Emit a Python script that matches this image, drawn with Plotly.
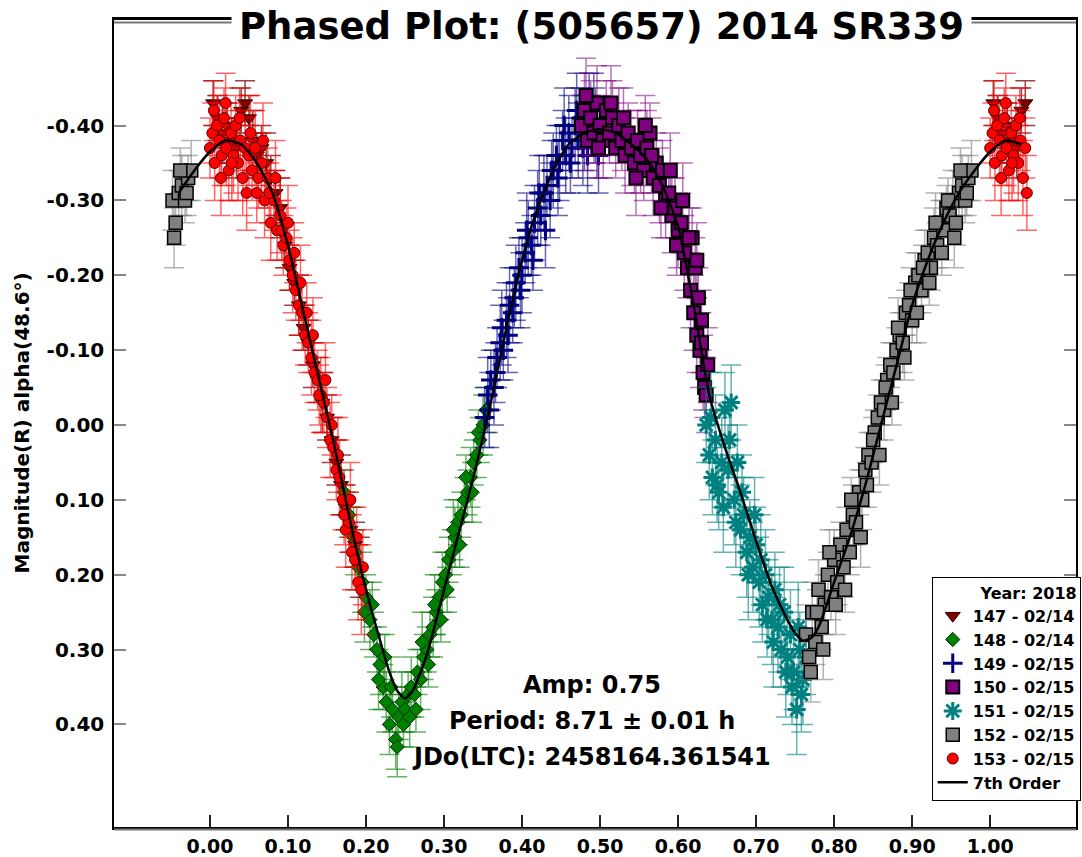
import plotly.graph_objects as go

# ---------------- data (phase, magnitude, error) ----------------
p147 = [0.004, 0.010, 0.016, 0.022, 0.028, 0.034, 0.040, 0.045, 0.050, 0.055, 0.060, 0.066, 0.072, 0.078,
        0.084, 0.090, 0.096, 0.102, 0.108, 0.114, 0.120, 0.126, 0.132, 0.138, 0.144, 0.150, 0.156, 0.162,
        0.168, 0.174, 0.180, 0.186, 0.192]
m147 = [-0.43, -0.41, -0.39, -0.40, -0.38, -0.37, -0.42, -0.43, -0.41, -0.38, -0.36, -0.37, -0.35, -0.33,
        -0.31, -0.29, -0.24, -0.21, -0.19, -0.16, -0.13, -0.11, -0.08, -0.06, -0.03, -0.01, 0.02, 0.05,
        0.08, 0.11, 0.14, 0.16, 0.19]
e147 = [0.03, 0.03, 0.04, 0.03, 0.03, 0.04, 0.03, 0.03, 0.03, 0.04, 0.03, 0.03, 0.04, 0.03,
        0.03, 0.04, 0.03, 0.03, 0.03, 0.04, 0.03, 0.03, 0.03, 0.03, 0.04, 0.03, 0.03, 0.03,
        0.04, 0.03, 0.03, 0.03, 0.04]

p148 = [0.172, 0.178, 0.184, 0.190, 0.195, 0.200, 0.205, 0.210, 0.214, 0.218, 0.222, 0.226, 0.230, 0.234,
        0.238, 0.242, 0.246, 0.250, 0.254, 0.258, 0.262, 0.266, 0.270, 0.274, 0.278, 0.282, 0.286, 0.290,
        0.294, 0.298, 0.302, 0.306, 0.310, 0.314, 0.318, 0.322, 0.326, 0.330, 0.334, 0.338, 0.342, 0.346,
        0.350, 0.354,
        0.186, 0.198, 0.208, 0.216, 0.224, 0.232, 0.240, 0.248, 0.256, 0.264, 0.272, 0.280, 0.288, 0.296,
        0.304, 0.312, 0.320, 0.328, 0.336, 0.344]
m148 = [0.09, 0.12, 0.15, 0.19, 0.21, 0.23, 0.26, 0.28, 0.30, 0.32, 0.35, 0.37, 0.40, 0.38,
        0.42, 0.39, 0.37, 0.38, 0.36, 0.35, 0.36, 0.33, 0.34, 0.31, 0.30, 0.28, 0.27, 0.25,
        0.23, 0.21, 0.20, 0.18, 0.17, 0.15, 0.13, 0.12, 0.10, 0.09, 0.07, 0.05, 0.04, 0.02,
        0.00, -0.02,
        0.17, 0.25, 0.24, 0.34, 0.31, 0.35, 0.43, 0.40, 0.39, 0.38, 0.29, 0.32, 0.24, 0.26,
        0.22, 0.14, 0.16, 0.07, 0.09, 0.01]
e148 = [0.03, 0.03, 0.04, 0.03, 0.04, 0.03, 0.04, 0.03, 0.03, 0.04, 0.03, 0.04, 0.04, 0.03,
        0.04, 0.03, 0.04, 0.03, 0.03, 0.04, 0.03, 0.03, 0.04, 0.03, 0.03, 0.03, 0.04, 0.03,
        0.03, 0.04, 0.03, 0.03, 0.03, 0.04, 0.03, 0.03, 0.03, 0.03, 0.04, 0.03, 0.03, 0.03,
        0.04, 0.03,
        0.03, 0.04, 0.03, 0.04, 0.03, 0.04, 0.04, 0.03, 0.04, 0.03, 0.04, 0.03, 0.04, 0.03,
        0.03, 0.04, 0.03, 0.03, 0.04, 0.03]

p149 = [0.352, 0.356, 0.360, 0.364, 0.368, 0.372, 0.376, 0.380, 0.384, 0.388, 0.392, 0.396, 0.400, 0.404,
        0.408, 0.412, 0.416, 0.420, 0.424, 0.428, 0.432, 0.436, 0.440, 0.444, 0.448, 0.452, 0.456, 0.460,
        0.464, 0.468, 0.472, 0.476, 0.480, 0.484, 0.488, 0.492, 0.496,
        0.358, 0.366, 0.374, 0.382, 0.390, 0.398, 0.406, 0.414, 0.422, 0.430, 0.438, 0.446, 0.454, 0.462,
        0.470, 0.478, 0.486, 0.494, 0.498]
m149 = [-0.01, -0.04, -0.06, -0.05, -0.09, -0.11, -0.10, -0.14, -0.16, -0.15, -0.19, -0.21, -0.20, -0.23,
        -0.25, -0.24, -0.27, -0.29, -0.28, -0.31, -0.32, -0.30, -0.34, -0.36, -0.35, -0.38, -0.36, -0.39,
        -0.37, -0.40, -0.38, -0.41, -0.39, -0.36, -0.40, -0.42, -0.38,
        -0.02, -0.07, -0.13, -0.12, -0.17, -0.18, -0.26, -0.22, -0.31, -0.26, -0.34, -0.33, -0.40, -0.35,
        -0.42, -0.37, -0.43, -0.40, -0.36]
e149 = [0.04, 0.05, 0.04, 0.05, 0.04, 0.05, 0.04, 0.05, 0.05, 0.04, 0.05, 0.04, 0.05, 0.04,
        0.05, 0.04, 0.05, 0.05, 0.04, 0.05, 0.04, 0.05, 0.05, 0.04, 0.05, 0.04, 0.05, 0.05,
        0.04, 0.05, 0.05, 0.04, 0.05, 0.05, 0.04, 0.05, 0.05,
        0.05, 0.04, 0.05, 0.05, 0.04, 0.05, 0.05, 0.04, 0.05, 0.05, 0.04, 0.05, 0.05, 0.04,
        0.05, 0.05, 0.04, 0.05, 0.05]

p150 = [0.476, 0.480, 0.484, 0.488, 0.492, 0.496, 0.500, 0.504, 0.508, 0.512, 0.516, 0.520, 0.524, 0.528,
        0.532, 0.536, 0.540, 0.544, 0.548, 0.552, 0.556, 0.560, 0.564, 0.568, 0.572, 0.576, 0.580, 0.584,
        0.588, 0.592, 0.596, 0.600, 0.604, 0.608, 0.612, 0.616, 0.618, 0.620, 0.622, 0.624, 0.626, 0.628,
        0.630, 0.632, 0.634, 0.636,
        0.482, 0.498, 0.514, 0.530, 0.546, 0.558, 0.566, 0.578, 0.590, 0.598, 0.606, 0.614, 0.624, 0.630,
        0.638]
m150 = [-0.40, -0.42, -0.38, -0.41, -0.39, -0.43, -0.40, -0.38, -0.42, -0.39, -0.41, -0.37, -0.40, -0.38,
        -0.36, -0.39, -0.37, -0.35, -0.38, -0.36, -0.34, -0.37, -0.39, -0.33, -0.35, -0.32, -0.34, -0.30,
        -0.31, -0.28, -0.29, -0.26, -0.27, -0.23, -0.21, -0.18, -0.25, -0.15, -0.21, -0.12, -0.17, -0.10,
        -0.11, -0.07, -0.05, -0.04,
        -0.44, -0.37, -0.43, -0.41, -0.33, -0.40, -0.36, -0.29, -0.34, -0.24, -0.30, -0.25, -0.22, -0.14,
        -0.08]
e150 = [0.04, 0.05, 0.04, 0.05, 0.04, 0.05, 0.04, 0.05, 0.04, 0.04, 0.05, 0.04, 0.05, 0.04,
        0.05, 0.04, 0.05, 0.04, 0.04, 0.05, 0.04, 0.05, 0.04, 0.05, 0.04, 0.05, 0.04, 0.05,
        0.04, 0.05, 0.04, 0.05, 0.04, 0.05, 0.04, 0.05, 0.04, 0.05, 0.04, 0.05, 0.04, 0.05,
        0.04, 0.05, 0.04, 0.05,
        0.05, 0.04, 0.05, 0.04, 0.05, 0.04, 0.05, 0.04, 0.05, 0.04, 0.05, 0.04, 0.05, 0.04,
        0.05]

p151 = [0.636, 0.640, 0.644, 0.648, 0.652, 0.656, 0.660, 0.664, 0.668, 0.672, 0.676, 0.680, 0.684, 0.688,
        0.692, 0.696, 0.700, 0.704, 0.708, 0.712, 0.716, 0.720, 0.724, 0.728, 0.732, 0.736, 0.740, 0.744,
        0.748, 0.752, 0.756, 0.760, 0.764,
        0.642, 0.650, 0.658, 0.666, 0.674, 0.682, 0.690, 0.698, 0.706, 0.714, 0.722, 0.730, 0.738, 0.746,
        0.754, 0.758]
m151 = [0.00, 0.04, 0.07, 0.02, 0.09, 0.05, -0.02, 0.06, -0.03, 0.10, 0.05, 0.14, 0.12, 0.17,
        0.15, 0.19, 0.16, 0.21, 0.24, 0.20, 0.23, 0.26, 0.22, 0.27, 0.30, 0.25, 0.31, 0.28,
        0.33, 0.38, 0.30, 0.34, 0.31,
        -0.01, 0.08, 0.11, 0.02, 0.13, 0.09, 0.20, 0.12, 0.18, 0.26, 0.29, 0.24, 0.33, 0.35,
        0.27, 0.36]
e151 = [0.05, 0.06, 0.05, 0.06, 0.05, 0.06, 0.05, 0.06, 0.05, 0.06, 0.05, 0.06, 0.05, 0.06,
        0.05, 0.06, 0.05, 0.06, 0.05, 0.06, 0.05, 0.06, 0.05, 0.06, 0.05, 0.06, 0.05, 0.06,
        0.05, 0.06, 0.05, 0.06, 0.05,
        0.06, 0.05, 0.06, 0.05, 0.06, 0.05, 0.06, 0.05, 0.06, 0.05, 0.06, 0.05, 0.06, 0.05,
        0.06, 0.05]

p152 = [0.764, 0.768, 0.772, 0.776, 0.780, 0.784, 0.788, 0.792, 0.796, 0.800, 0.804, 0.808, 0.812, 0.816,
        0.820, 0.824, 0.828, 0.832, 0.836, 0.840, 0.844, 0.848, 0.852, 0.856, 0.860, 0.864, 0.868, 0.872,
        0.876, 0.880, 0.884, 0.888, 0.892, 0.896, 0.900, 0.904, 0.908, 0.912, 0.916, 0.920, 0.924, 0.928,
        0.932, 0.936, 0.940, 0.944, 0.948, 0.952, 0.956, 0.960, 0.964, 0.968, 0.972, 0.976,
        0.770, 0.778, 0.786, 0.794, 0.802, 0.814, 0.822, 0.834, 0.842, 0.850, 0.858, 0.866, 0.874, 0.882,
        0.890, 0.898, 0.906, 0.914, 0.922, 0.930, 0.938, 0.946, 0.954, 0.962, 0.970]
m152 = [0.28, 0.31, 0.25, 0.29, 0.22, 0.27, 0.24, 0.20, 0.23, 0.18, 0.21, 0.16, 0.19, 0.14,
        0.17, 0.12, 0.13, 0.09, 0.10, 0.06, 0.04, 0.05, 0.01, -0.01, -0.03, -0.02, -0.06, -0.08,
        -0.07, -0.10, -0.12, -0.11, -0.15, -0.16, -0.14, -0.19, -0.20, -0.18, -0.22, -0.23, -0.21, -0.25,
        -0.24, -0.27, -0.26, -0.29, -0.28, -0.30, -0.27, -0.31, -0.32, -0.30, -0.33, -0.34,
        0.33, 0.25, 0.30, 0.17, 0.24, 0.22, 0.10, 0.15, 0.08, 0.02, 0.04, -0.05, -0.03, -0.13,
        -0.09, -0.18, -0.15, -0.21, -0.19, -0.27, -0.23, -0.30, -0.25, -0.34, -0.31]
e152 = [0.04, 0.03, 0.04, 0.03, 0.04, 0.03, 0.04, 0.03, 0.03, 0.04, 0.03, 0.03, 0.04, 0.03,
        0.03, 0.04, 0.03, 0.03, 0.04, 0.03, 0.03, 0.04, 0.03, 0.03, 0.03, 0.04, 0.03, 0.03,
        0.04, 0.03, 0.03, 0.04, 0.03, 0.03, 0.03, 0.04, 0.03, 0.03, 0.04, 0.03, 0.03, 0.04,
        0.03, 0.03, 0.04, 0.03, 0.03, 0.04, 0.03, 0.03, 0.04, 0.03, 0.03, 0.04,
        0.04, 0.03, 0.04, 0.03, 0.04, 0.03, 0.03, 0.04, 0.03, 0.03, 0.04, 0.03, 0.03, 0.04,
        0.03, 0.03, 0.04, 0.03, 0.03, 0.04, 0.03, 0.03, 0.04, 0.03, 0.03]

p153 = [0.000, 0.003, 0.006, 0.009, 0.012, 0.015, 0.018, 0.021, 0.024, 0.027, 0.030, 0.033, 0.036, 0.039,
        0.042, 0.045, 0.047, 0.050, 0.054, 0.058, 0.062, 0.066, 0.070, 0.074, 0.078, 0.082, 0.086, 0.090,
        0.094, 0.098, 0.102, 0.106, 0.110, 0.114, 0.118, 0.122, 0.126, 0.130, 0.134, 0.138, 0.142, 0.146,
        0.150, 0.154, 0.158, 0.162, 0.166, 0.170, 0.174, 0.178, 0.182, 0.186, 0.190, 0.194,
        0.005, 0.014, 0.020, 0.028, 0.038, 0.052, 0.060, 0.068, 0.076, 0.084, 0.092, 0.100, 0.108, 0.116,
        0.124, 0.132, 0.140, 0.148, 0.156, 0.164, 0.172, 0.180, 0.188, 0.196]
m153 = [-0.37, -0.39, -0.35, -0.40, -0.38, -0.36, -0.41, -0.37, -0.34, -0.39, -0.36, -0.40, -0.35, -0.38,
        -0.33, -0.37, -0.31, -0.36, -0.34, -0.37, -0.33, -0.35, -0.30, -0.33, -0.27, -0.30, -0.26, -0.28,
        -0.24, -0.25, -0.22, -0.20, -0.18, -0.16, -0.15, -0.12, -0.11, -0.09, -0.07, -0.06, -0.04, -0.03,
        -0.01, 0.02, 0.03, 0.06, 0.07, 0.10, 0.14, 0.13, 0.17, 0.18, 0.21, 0.22,
        -0.42, -0.33, -0.43, -0.35, -0.41, -0.39, -0.31, -0.38, -0.31, -0.33, -0.26, -0.27, -0.23, -0.19,
        -0.15, -0.12, -0.04, -0.06, 0.00, 0.04, 0.12, 0.10, 0.15, 0.19]
e153 = [0.04, 0.04, 0.05, 0.04, 0.05, 0.04, 0.04, 0.05, 0.04, 0.04, 0.05, 0.04, 0.05, 0.04,
        0.05, 0.04, 0.05, 0.04, 0.04, 0.05, 0.04, 0.04, 0.05, 0.04, 0.05, 0.04, 0.04, 0.05,
        0.04, 0.04, 0.04, 0.05, 0.04, 0.04, 0.05, 0.04, 0.04, 0.05, 0.04, 0.04, 0.05, 0.04,
        0.04, 0.05, 0.04, 0.04, 0.05, 0.04, 0.05, 0.04, 0.05, 0.04, 0.05, 0.06,
        0.04, 0.05, 0.04, 0.05, 0.04, 0.05, 0.04, 0.05, 0.04, 0.05, 0.04, 0.05, 0.04, 0.05,
        0.04, 0.05, 0.04, 0.05, 0.04, 0.05, 0.04, 0.05, 0.04, 0.05]

# 7th order Fourier fit
fit_phase = [-0.04, -0.02, 0.00, 0.02, 0.04, 0.06, 0.08, 0.10, 0.12, 0.14, 0.16, 0.18, 0.20, 0.22, 0.23,
             0.24, 0.25, 0.26, 0.27, 0.28, 0.30, 0.32, 0.34, 0.36, 0.38, 0.40, 0.42, 0.44, 0.46, 0.48,
             0.50, 0.52, 0.54, 0.56, 0.58, 0.60, 0.62, 0.64, 0.66, 0.68, 0.70, 0.72, 0.74, 0.75, 0.76,
             0.77, 0.78, 0.80, 0.82, 0.84, 0.86, 0.88, 0.90, 0.92, 0.94, 0.96, 0.98, 1.00, 1.02, 1.04]
fit_mag = [-0.31, -0.34, -0.365, -0.38, -0.375, -0.35, -0.31, -0.24, -0.15, -0.06, 0.03, 0.13, 0.22, 0.295, 0.33,
           0.355, 0.365, 0.355, 0.33, 0.30, 0.22, 0.14, 0.06, -0.03, -0.13, -0.22, -0.29, -0.34, -0.375, -0.39,
           -0.395, -0.39, -0.375, -0.355, -0.32, -0.265, -0.16, -0.04, 0.03, 0.09, 0.155, 0.215, 0.26, 0.278, 0.288,
           0.285, 0.27, 0.21, 0.15, 0.08, 0.00, -0.08, -0.16, -0.22, -0.27, -0.31, -0.34, -0.365, -0.38, -0.375]

session_names = ["147 - 02/14", "148 - 02/14", "149 - 02/15", "150 - 02/15",
                 "151 - 02/15", "152 - 02/15", "153 - 02/15"]
x_ticks = [0.0, 0.1, 0.2, 0.3, 0.4, 0.5, 0.6, 0.7, 0.8, 0.9, 1.0]
x_tick_labels = ["0.00", "0.10", "0.20", "0.30", "0.40", "0.50", "0.60", "0.70", "0.80", "0.90", "1.00"]
y_ticks = [-0.4, -0.3, -0.2, -0.1, 0.0, 0.1, 0.2, 0.3, 0.4]
y_tick_labels = ["-0.40", "-0.30", "-0.20", "-0.10", "0.00", "0.10", "0.20", "0.30", "0.40"]

# ---------------- figure ----------------
W, H = 1082, 857
ML, MR, MT, MB = 114, 1, 20, 30
PW, PH = W - ML - MR, H - MT - MB
FONT = "DejaVu Sans, Verdana, sans-serif"


def px2x(px):
    return (px - ML) / PW


def px2y(py):
    return (H - MB - py) / PH


def wrap(p, m, e):
    xs, ys, es = list(p), list(m), list(e)
    for pi, mi, ei in zip(p, m, e):
        if pi < 0.05:
            xs.append(pi + 1); ys.append(mi); es.append(ei)
        if pi > 0.95:
            xs.append(pi - 1); ys.append(mi); es.append(ei)
    return xs, ys, es


styles = [
    dict(symbol="triangle-down", color="#800000", line=dict(color="#2a0000", width=1), size=13, err="rgba(128,0,0,0.75)"),
    dict(symbol="diamond", color="#008000", line=dict(color="#003000", width=1), size=11, err="rgba(0,128,0,0.6)"),
    dict(symbol="cross-thin", color="#000080", line=dict(color="#000080", width=3), size=14, err="rgba(0,0,128,0.6)"),
    dict(symbol="square", color="#800080", line=dict(color="#000000", width=2), size=13, err="rgba(128,0,128,0.55)"),
    dict(symbol="asterisk", color="#008080", line=dict(color="#008080", width=3), size=15, err="rgba(0,128,128,0.6)"),
    dict(symbol="square", color="#808080", line=dict(color="#000000", width=1.5), size=13, err="rgba(128,128,128,0.6)"),
    dict(symbol="circle", color="#ff0000", line=dict(color="#600000", width=1), size=11, err="rgba(255,0,0,0.6)"),
]
series = [(p147, m147, e147), (p148, m148, e148), (p149, m149, e149), (p150, m150, e150),
          (p151, m151, e151), (p152, m152, e152), (p153, m153, e153)]

fig = go.Figure()
for name, (p, m, e), st in zip(session_names, series, styles):
    xs, ys, es = wrap(p, m, e)
    fig.add_trace(go.Scatter(
        x=xs, y=ys, mode="markers", name=name,
        marker=dict(symbol=st["symbol"], color=st["color"], size=st["size"], line=st["line"]),
        error_y=dict(type="data", array=es, visible=True, color=st["err"], thickness=1.5, width=10),
    ))

fig.add_trace(go.Scatter(x=fit_phase, y=fit_mag, mode="lines", name="7th Order",
                         line=dict(color="black", width=2.5, shape="spline", smoothing=0.6)))

fig.update_layout(
    width=W, height=H,
    margin=dict(l=ML, r=MR, t=MT, b=MB),
    paper_bgcolor="white", plot_bgcolor="white",
    font=dict(family=FONT, color="black"),
    showlegend=True,
    legend=dict(
        x=px2x(936), y=px2y(577), xanchor="left", yanchor="top",
        bgcolor="white", bordercolor="black", borderwidth=1,
        font=dict(family=FONT, size=16, weight="bold", color="black"),
        title=dict(text="Year: 2018", side="top right", font=dict(family=FONT, size=16, weight="bold")),
        tracegroupgap=0, itemwidth=30,
    ),
    xaxis=dict(
        range=[-0.123, 1.110], tickvals=x_ticks, ticktext=x_tick_labels,
        ticks="inside", ticklen=12, tickwidth=1.5, tickcolor="#222",
        showline=True, linewidth=2.5, linecolor="black", mirror=True,
        showgrid=False, zeroline=False,
        tickfont=dict(family=FONT, size=19, weight="bold"),
    ),
    yaxis=dict(
        range=[0.537, -0.541], tickvals=y_ticks, ticktext=y_tick_labels,
        ticks="inside", ticklen=12, tickwidth=1.5, tickcolor="#888",
        showline=True, linewidth=1.5, linecolor="black", mirror="ticks",
        showgrid=False, zeroline=False,
        tickfont=dict(family=FONT, size=20, weight="bold"),
        ticklabelstandoff=4,
    ),
)

# legend drop shadow
fig.add_shape(type="rect", xref="paper", yref="paper",
              x0=px2x(940), x1=px2x(1081), y0=px2y(799), y1=px2y(581),
              fillcolor="black", line=dict(width=0), layer="above")
# double bottom / top frame lines
fig.add_shape(type="line", xref="paper", yref="paper", x0=0, x1=1, y0=px2y(829.5), y1=px2y(829.5),
              line=dict(color="#777", width=2))
fig.add_shape(type="line", xref="paper", yref="paper", x0=0, x1=1, y0=px2y(22.5), y1=px2y(22.5),
              line=dict(color="#777", width=2))

# title on the frame
fig.add_annotation(text="Phased Plot: (505657) 2014 SR339", xref="paper", yref="paper",
                   x=px2x(604), y=px2y(26), xanchor="center", yanchor="middle", showarrow=False,
                   bgcolor="white", borderpad=7,
                   font=dict(family=FONT, size=37, weight="bold", color="black"))
# y-axis title
fig.add_annotation(text="Magnitude(R) alpha(48.6°)", xref="paper", yref="paper",
                   x=px2x(22), y=px2y(423), xanchor="center", yanchor="middle", showarrow=False,
                   textangle=-90, font=dict(family=FONT, size=20, weight="bold", color="black"))
# fit info
for txt, py in [("Amp: 0.75", 685), ("Period: 8.71 ± 0.01 h", 721), ("JDo(LTC): 2458164.361541", 757)]:
    fig.add_annotation(text=txt, xref="paper", yref="paper", x=px2x(594), y=px2y(py),
                       xanchor="center", yanchor="middle", showarrow=False,
                       font=dict(family=FONT, size=24, weight="bold", color="black"))

fig.write_html("out.html", config={"displayModeBar": False},
               post_script="document.body.style.margin='0';")
